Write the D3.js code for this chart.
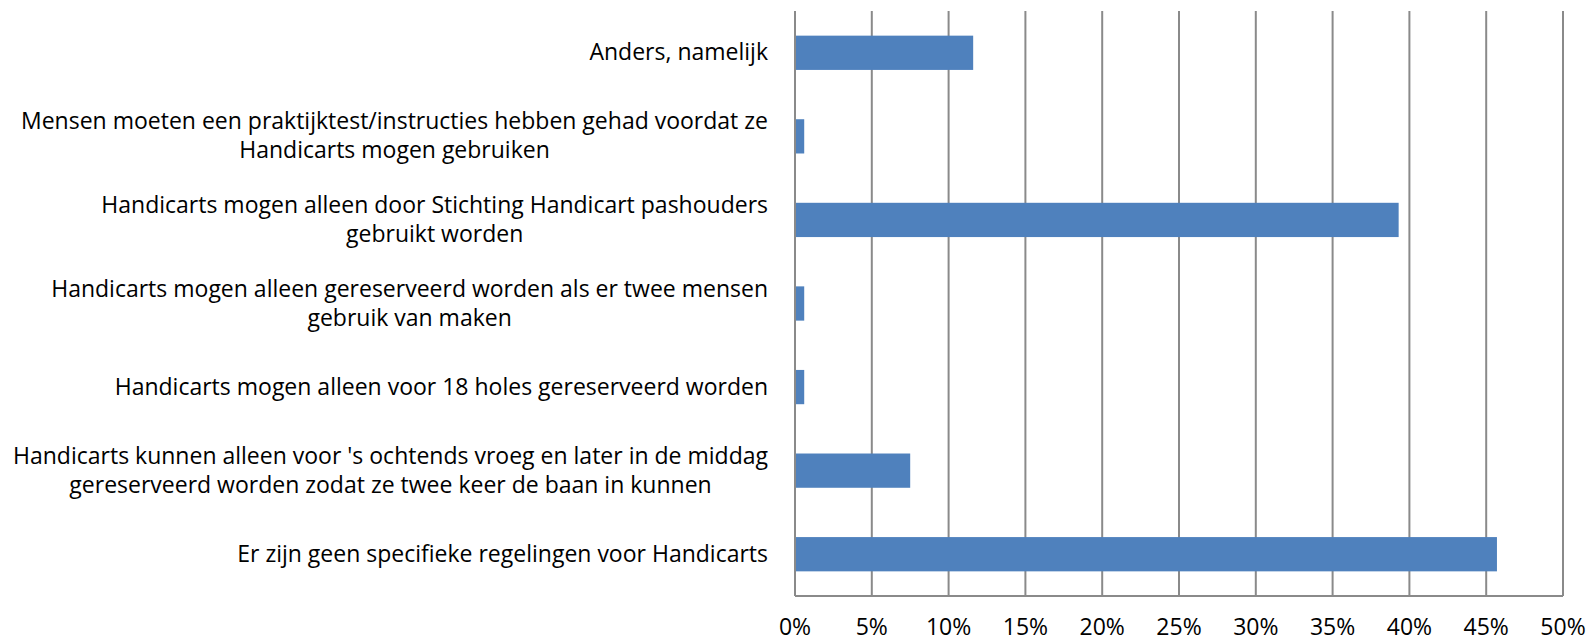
<!DOCTYPE html>
<html>
<head>
<meta charset="utf-8">
<script src="https://cdn.jsdelivr.net/npm/d3@7"></script>
<style>
  body { margin: 0; background: #fff; }
  text { font-family: "Open Sans", Lato, sans-serif; fill: #000; }
</style>
</head>
<body>
<script>
const width = 1589, height = 641
const margin = { top: 11, right: 26, bottom: 45, left: 795 }

// categories, top to bottom (each line of a label is its own string)
const categories = [
    ["Anders, namelijk"],
    ["Mensen moeten een praktijktest/instructies hebben gehad voordat ze", "Handicarts mogen gebruiken"],
    ["Handicarts mogen alleen door Stichting Handicart pashouders", "gebruikt worden"],
    ["Handicarts mogen alleen gereserveerd worden als er twee mensen", "gebruik van maken"],
    ["Handicarts mogen alleen voor 18 holes gereserveerd worden"],
    ["Handicarts kunnen alleen voor 's ochtends vroeg en later in de middag", "gereserveerd worden zodat ze twee keer de baan in kunnen"],
    ["Er zijn geen specifieke regelingen voor Handicarts"]
]
// percentages
const values = [11.6, 0.6, 39.3, 0.6, 0.6, 7.5, 45.7]
const ticks = [0, 5, 10, 15, 20, 25, 30, 35, 40, 45, 50]

const svg = d3.select('body').append('svg')
    .attr('width', width)
    .attr('height', height)

// pick a font size so the longest label line is about as wide as in the original (~755px)
const probe = svg.append('text').style('font-size', '20px')
    .text("Handicarts kunnen alleen voor 's ochtends vroeg en later in de middag")
const fontSize = Math.min(23, 20 * 755 / probe.node().getComputedTextLength())
probe.remove()

const xScale = d3.scaleLinear()
    .domain([0, 50])
    .range([margin.left, width - margin.right])

const yScale = d3.scaleBand()
    .domain(d3.range(categories.length))
    .range([margin.top, height - margin.bottom])
    .paddingInner(0.59)
    .paddingOuter(0.295)

const plotTop = margin.top, plotBottom = height - margin.bottom

// vertical gridlines
svg.selectAll('.grid').data(ticks)
    .enter()
    .append('line')
    .attr('x1', d => xScale(d))
    .attr('x2', d => xScale(d))
    .attr('y1', plotTop)
    .attr('y2', plotBottom)
    .attr('stroke', '#8a8a8a')
    .attr('stroke-width', 2)

// bottom axis line
svg.append('line')
    .attr('x1', xScale(0))
    .attr('x2', xScale(50))
    .attr('y1', plotBottom)
    .attr('y2', plotBottom)
    .attr('stroke', '#8a8a8a')
    .attr('stroke-width', 2)

// bars
svg.selectAll('.bar').data(values)
    .enter()
    .append('rect')
    .attr('x', xScale(0) + 1)
    .attr('y', (d, i) => yScale(i))
    .attr('width', d => xScale(d) - xScale(0) - 1)
    .attr('height', yScale.bandwidth())
    .attr('fill', '#4f81bd')

// tick labels
svg.selectAll('.tick').data(ticks)
    .enter()
    .append('text')
    .attr('x', d => xScale(d))
    .attr('y', 635)
    .attr('text-anchor', 'middle')
    .style('font-size', fontSize + 'px')
    .text(d => d + '%')

// category labels, right aligned, centred on their bar
const lineH = 29
const labels = svg.selectAll('.label').data(categories)
    .enter()
    .append('text')
    .attr('text-anchor', 'middle')
    .style('font-size', fontSize + 'px')
    .attr('transform', (d, i) => {
        const cy = yScale(i) + yScale.bandwidth() / 2
        return 'translate(0,' + (cy - (d.length - 1) * lineH / 2 + 7.5) + ')'
    })

labels.each(function (d) {
    const t = d3.select(this)
    // centre each line on the widest line, whose right edge sits at 768
    const tmp = t.append('tspan').text(d[0])
    let maxW = 0
    d.forEach(s => { tmp.text(s); maxW = Math.max(maxW, tmp.node().getComputedTextLength()) })
    tmp.remove()
    const cx = 768 - maxW / 2
    d.forEach((s, j) => {
        t.append('tspan')
            .attr('x', cx)
            .attr('y', j * lineH)
            .text(s)
    })
})
</script>
</body>
</html>
